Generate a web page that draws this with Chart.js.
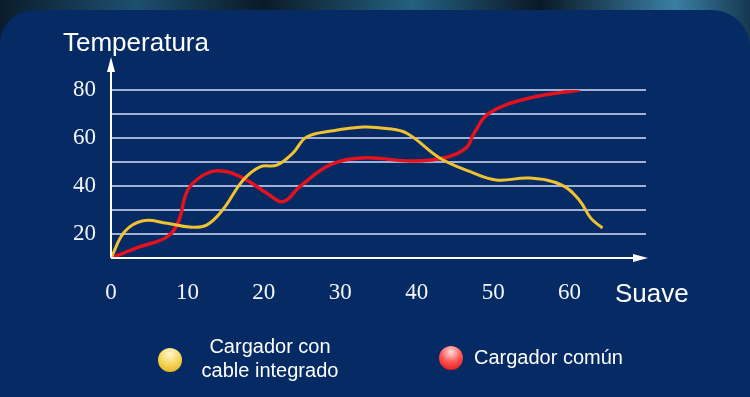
<!DOCTYPE html>
<html>
<head>
<meta charset="utf-8">
<script src="https://cdn.jsdelivr.net/npm/chart.js@4.4.0/dist/chart.umd.min.js"></script>
<style>
    html, body { margin: 0; padding: 0; }
    body {
        width: 750px; height: 397px; overflow: hidden; position: relative;
        background: linear-gradient(90deg, #0b1c2c 0%, #1d4f6e 18%, #0a1a28 35%, #24607f 55%, #0a1826 72%, #3a7fa4 90%, #163850 100%);
        font-family: "Liberation Sans", Arial, sans-serif;
    }
    #panel {
        position: absolute; left: 0; top: 10px; width: 750px; height: 387px;
        background: #052a64;
        border-radius: 34px 38px 0 0;
    }
    #chart { position: absolute; left: 0; top: 0; }
    .label { position: absolute; color: #fff; white-space: nowrap; }
    #ytitle { left: 63px; top: 27px; font-size: 26px; }
    #xtitle { left: 615px; top: 278px; font-size: 26px; }
    .dot { position: absolute; width: 24px; height: 24px; border-radius: 50%; }
    #dotYellow { left: 158px; top: 348px; background: radial-gradient(circle at 50% 25%, #fff8d0 0%, #f6d45a 50%, #e0a814 100%); }
    #dotRed { left: 439px; top: 346px; background: radial-gradient(circle at 50% 25%, #ffe0e0 0%, #ff5a5a 45%, #d80808 100%); }
    .legtext { font-size: 20px; line-height: 24px; text-align: center; }
    #legYellow { left: 200px; top: 334px; width: 140px; }
    #legRed { left: 474px; top: 345px; }
</style>
</head>
<body>
<div id="panel"></div>
<canvas id="chart" width="750" height="397"></canvas>
<div class="label" id="ytitle">Temperatura</div>
<div class="label" id="xtitle">Suave</div>
<div class="dot" id="dotYellow"></div>
<div class="label legtext" id="legYellow">Cargador con<br>cable integrado</div>
<div class="dot" id="dotRed"></div>
<div class="label legtext" id="legRed">Cargador común</div>
<script>
const seriesNames = ['Cargador con cable integrado', 'Cargador común'];

const yellowX = [0, 1.8, 4.2, 7.3, 10.3, 12.5, 14.6, 17.3, 19.5, 21.7, 23.8, 25.6, 29, 33, 36, 38.7, 43, 47, 50.4, 54.8, 59, 61.3, 62.8, 64.3];
const yellowY = [10, 21, 25.5, 24.5, 22.9, 23.7, 30, 42.5, 48, 48.7, 53.7, 60.4, 63, 64.6, 64, 62, 51.7, 46, 42.5, 43.3, 40.4, 34, 26.5, 22.5];

const redX = [0, 3.8, 7.3, 8.8, 10, 11.8, 14, 16.9, 20.4, 22.5, 24.7, 28.6, 33, 39.5, 43.9, 46.5, 47.5, 49.5, 54.8, 61.3];
const redY = [10, 14.7, 18.7, 25, 38, 44, 46.4, 43.9, 37, 33.5, 39.7, 48.7, 51.7, 50.4, 52, 56, 62, 70.4, 76.7, 80];

const xTicks = [0, 10, 20, 30, 40, 50, 60];
const yTicks = [20, 40, 60, 80];

function toPoints(xs, ys) {
    return xs.map((x, i) => ({ x: x, y: ys[i] }));
}

// white axes with arrow heads
const axisArrows = {
    id: 'axisArrows',
    afterDatasetsDraw(chart) {
        const ctx = chart.ctx;
        const a = chart.chartArea;
        ctx.save();
        ctx.strokeStyle = '#ffffff';
        ctx.fillStyle = '#ffffff';
        ctx.lineWidth = 2;
        ctx.beginPath();
        ctx.moveTo(a.left, a.bottom);
        ctx.lineTo(a.left, 66);
        ctx.moveTo(a.left, a.bottom);
        ctx.lineTo(a.right - 8, a.bottom);
        ctx.stroke();
        ctx.beginPath();
        ctx.moveTo(a.left, 57);
        ctx.lineTo(a.left - 4, 72);
        ctx.lineTo(a.left + 4, 72);
        ctx.closePath();
        ctx.fill();
        ctx.beginPath();
        ctx.moveTo(a.right + 2, a.bottom);
        ctx.lineTo(a.right - 13, a.bottom - 4);
        ctx.lineTo(a.right - 13, a.bottom + 4);
        ctx.closePath();
        ctx.fill();
        ctx.restore();
    }
};

const ctx = document.getElementById('chart').getContext('2d');
const chart = new Chart(ctx, {
    type: 'line',
    data: {
        datasets: [
            {
                label: seriesNames[0],
                data: toPoints(yellowX, yellowY),
                borderColor: '#f0c232',
                borderWidth: 3,
                pointRadius: 0,
                tension: 0.4
            },
            {
                label: seriesNames[1],
                data: toPoints(redX, redY),
                borderColor: '#e3121c',
                borderWidth: 3.5,
                pointRadius: 0,
                tension: 0.4
            }
        ]
    },
    options: {
        responsive: false,
        animation: false,
        events: [],
        layout: { padding: { top: 90, right: 104, left: 0, bottom: 0 } },
        plugins: { legend: { display: false }, tooltip: { enabled: false } },
        scales: {
            x: {
                type: 'linear',
                min: 0,
                max: 70,
                afterFit: s => { s.height = 139; },
                afterBuildTicks: s => { s.ticks = xTicks.map(v => ({ value: v })); },
                grid: { display: false },
                border: { display: false },
                ticks: {
                    autoSkip: false,
                    maxRotation: 0,
                    color: '#f4f6fb',
                    padding: 13,
                    font: { family: '"Liberation Serif", "Times New Roman", serif', size: 23 }
                }
            },
            y: {
                min: 10,
                max: 80,
                afterFit: s => { s.width = 111; },
                afterBuildTicks: s => { s.ticks = [10, 20, 30, 40, 50, 60, 70, 80].map(v => ({ value: v })); },
                grid: {
                    color: ctx => ctx.tick && ctx.tick.value === 10 ? 'rgba(0,0,0,0)' : '#9fb2d6',
                    lineWidth: 2,
                    drawTicks: false
                },
                border: { display: false },
                ticks: {
                    autoSkip: false,
                    color: '#f4f6fb',
                    padding: 15,
                    font: { family: '"Liberation Serif", "Times New Roman", serif', size: 23 },
                    callback: v => yTicks.includes(v) ? v : ''
                }
            }
        }
    },
    plugins: [axisArrows]
});
</script>
</body>
</html>
